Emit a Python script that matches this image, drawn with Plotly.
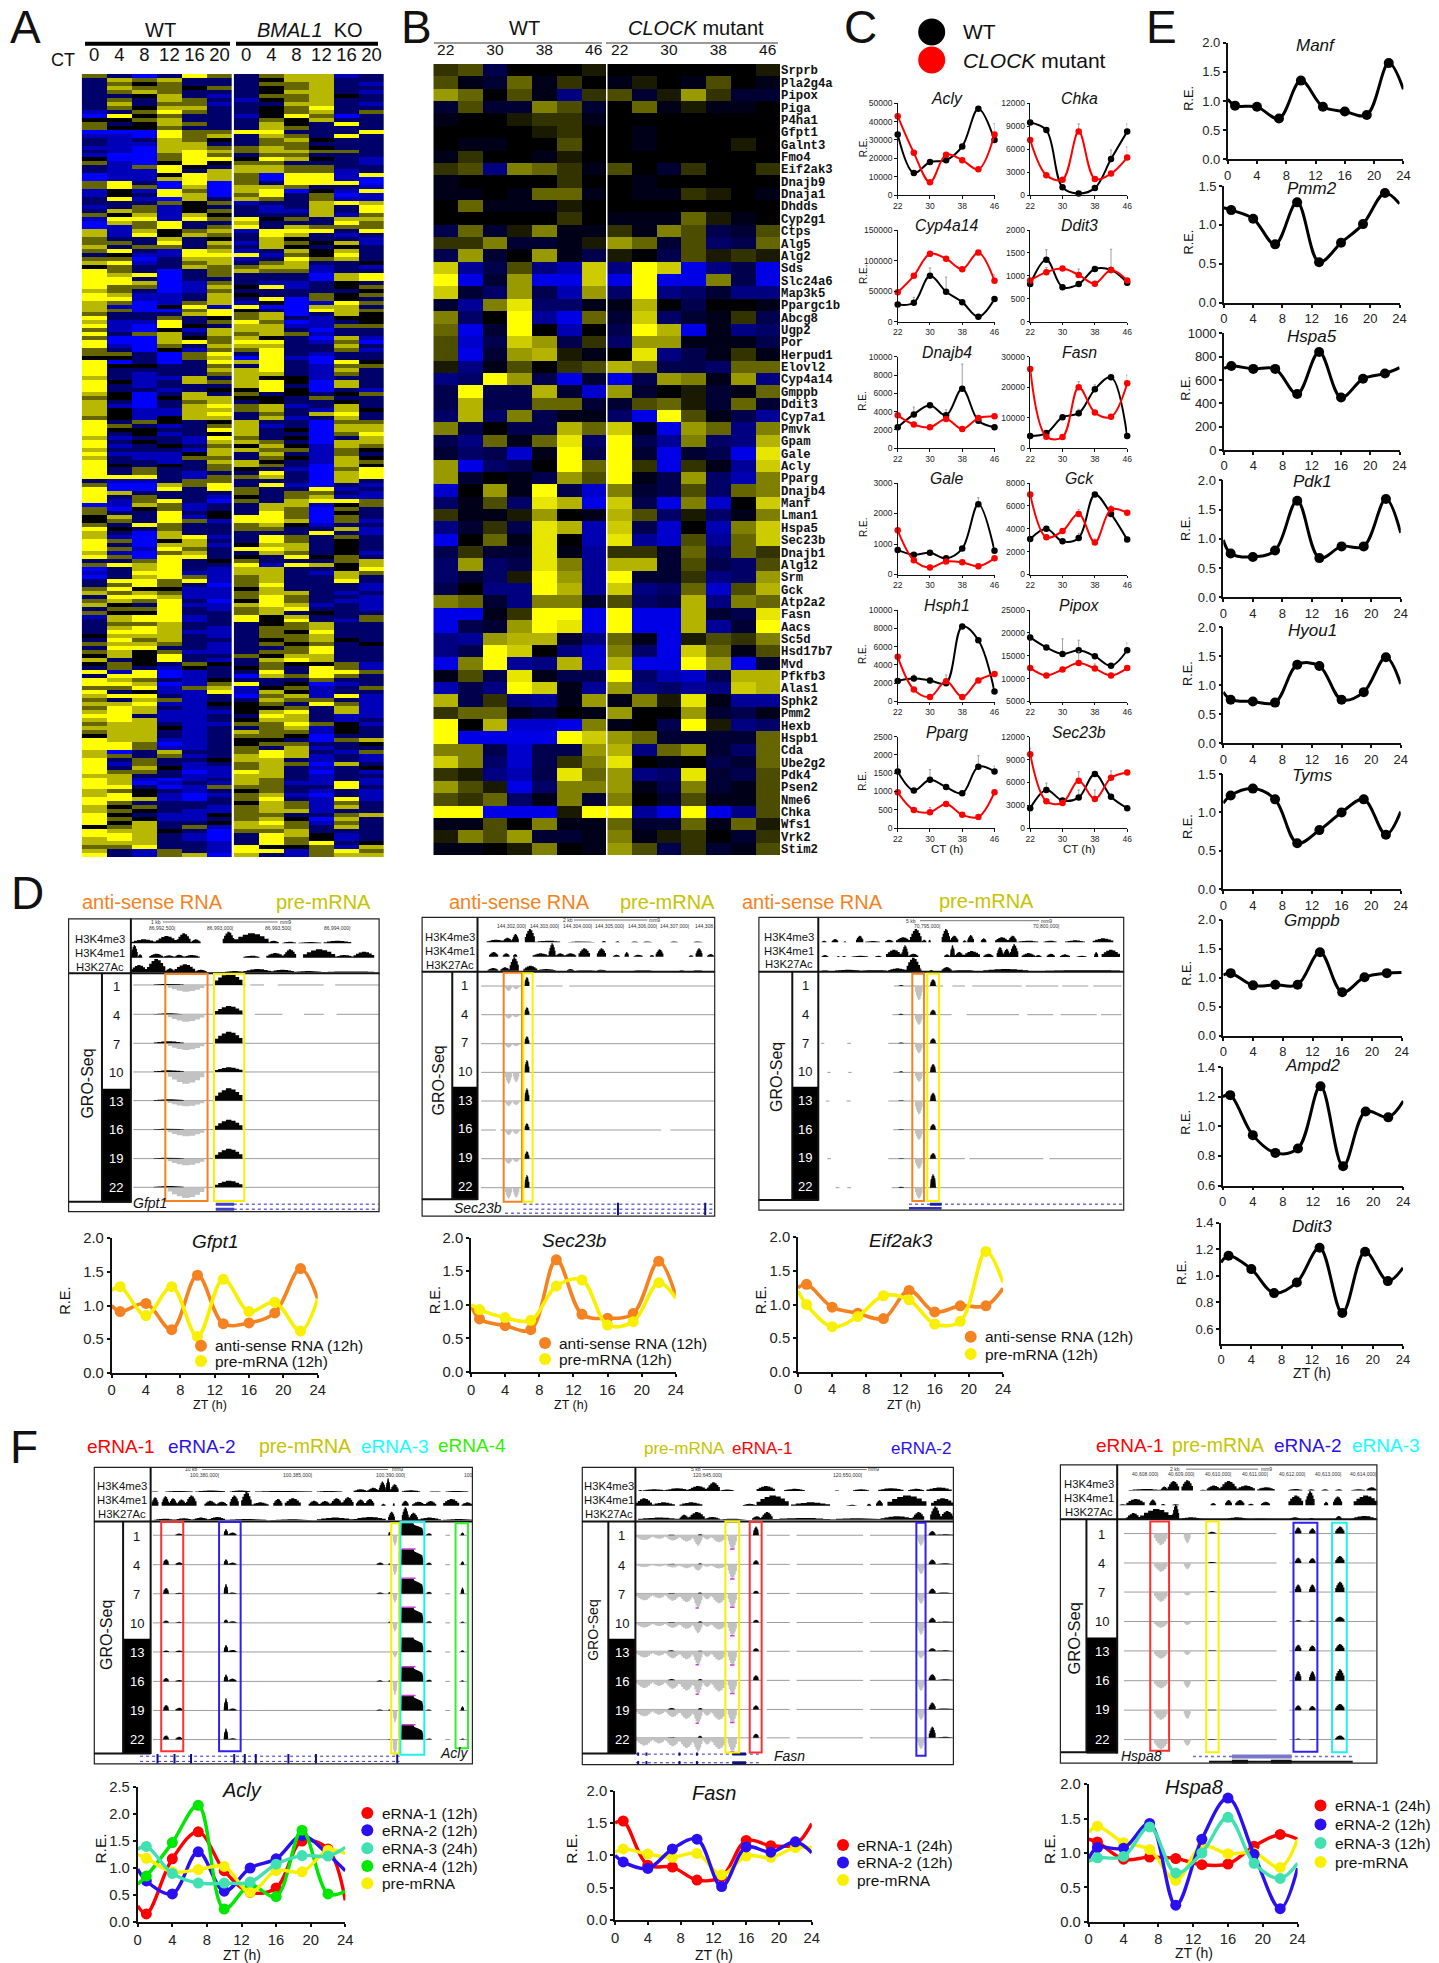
import plotly.graph_objects as go

W, H = 1439, 1963
SANS = "Liberation Sans, Arial, sans-serif"
MONO = "Liberation Mono, Courier New, monospace"

# ---------- Panel A heat map: one string per row, one letter per column (level)
A_LEVELS = {"b!": -1.0, "b": -0.72, "n": -0.42, "k": 0.0, "o": 0.4, "y": 0.72, "y!": 1.0}
A_COLS = ["0", "4", "8", "12", "16", "20"]
A_ROWS_TOP = [
"onBnYonoyybn","nyoynnnkyynn","nokonnnooynb","nyookonkoynn","noyonnnkyynb","nnkynbnooykn","nonyonbkoynn",
"nynoobnnyynb","nokyynnkoYnn","bnoYonnkoyno","BYkonnbkYoBn","kkoynnnokynn","onkyonnyknYn","okkonnnyonnn",
"BBBYooYYnnnY","bbBYoynyonYn","nbnyoknoyknn","nbbyynnoonnn","bbByyooyoknn","nbByYyoyyoon","bBBoYonoonnn",
"kBBoYYkYyknb","obBkYkoonnnb","nboYknyyoonn","nbbYnyyyoobn","BbbkYyoBYYbY","BbbyYyoBYYbB","oYnBYBonYYYB",
"oYoByByyonnb","bkbYoByYBkbY","bknYyBoYnoBb","nYbBynyonobb","nnnokobnnyYy","bnobknnbnynY","nyobkonbbynY",
"okybyknnnybo","bYYbYoYkonyy","ByoYnnynnnYo","BboYnoYnyooo","ybykoybYYYnY","ybYkyonYynbn","onnynknyknnb",
"oonYnybyokyb","ynoononyknkn","oYnbYybnykyn","nkbbYYYbokYn","ooBnyybnYoyn","yYbnoynoynnk","konnyooyybnb",
"YonBnoyoobnn","YyYBnonnnByY","YYnBnnnnnByY","YYyBbonbbnkn","YooBbykYbnko","yonBbonnnnnk","Yybbnyknnoko",
"YYbbnynYBokn","yoBboybkBbYo","ybBkYbYBByyn","yoBBoYknBYyo","onnnyYoyBnyk","Ynnonkoynbkk","ybbYnoYoBbnk",
"YbBYknyybboo","obBkbyyynBnn","Ynoynyoyobnn","oBBykoyknByb","YBByYoYYnboB","YbBonyyynnyn","onBkbooYnnob",
"oonBoYnYnbnn","kknBoyBYbBnn","YBnBnYyYnBYk","YkknnonYnboo","YnnnnyyYnbyn","Ynbnnoyynbon","ynbbynykkbnn",
"YkbnyoyYkByn","YnbnnnyYnByn","YnnbnkkYkBnb","ykBnynonknko","okBkyykknonn","ynBnoynknnkn","ybBnyYoybnyn",
"ykbbyyoynbyk","ykbbyYnonyYn","okbkyynybnyn","YnoknkynnBoo","YonbnoybnByy","YkknnYynkByy","YnkbnkynnBoY",
"ybnnbYonkBny","YnknbyyonByy","YbnknokykbyO","ynnnbyyoobok","Ybbbkynynbon","ynbbooNokbyk","YnnbnyyknbyO","YknknoyonByk",
]
A_ROWS_BOTTOM = [
"YnonnoknbBoY","YnonbnnYnByY","YYYnboOynByY","nbbnoonnnByn","oBByoYnYbBnb","YBBYnYonnYbn","Yynnnnonoonb",
"Ynonnbknoybb","YboYnBonyYYo","Bbyobnnyybko","oBkobnnyoBon","onnYnknYoBkn","kynYbkYYoBon","konYobYYyBob",
"onYonnoykbnn","Yknonnoonnyb","ynBynnnnnYnb","ybByYbnYonon","YoBkynnYonkn","YnByybkyynkn","YobYonYYynkn",
"ybBoynnyonkb","YoBYYnknYkon","nnoYnkonnnoy","oYyYnnYbYyky","BnyYnbyynnkY","bnYYbbyynbyo","BnyYobOynnyn",
"nYYoYboynnYn","noYonBoYnnnb","oYkkbbkynnnb","yoyobboyynbn","nYYybboYonnb","oyoYnBkYonbb","yknYbbyYybnb",
"nooYnboyYnnb","okkYnnoynknn","byYYbnYkynno","nyYYbnYkYnbo","nooynnnkoynn","nyYynbnooynn","nYYybbnokYnn",
"kyyynbnooynn","nYoynnnkoykn","oyyonbnokonk","nYYnnbnnoYnn","oykobbnooYnn","kykYnnokyynn","ynkYnbnyYynn",
"koknoknokkob","nonbknkonYob","YbYBbnnYnYYo","nYYBbnByoYon","YyonbknnnonN","YYyBboYnkBbn","ooYboybkobno",
"YnkbbYbykbnn","yYYnbnBoybYb","onyobnnyoonb","yyYbbkkonYob","oYynbnkkonyb","yYybbbkyYnyb","YYnbbnnYynbb",
"yYybbnkyynbn","oyynbboOYokb","yyykbnnoybkn","oyynbnyoobkn","kyynbnookBnn","YyybbnkknBoy","YYoBbnkoonnk",
"YYobbnonybnn","yBnynnoYynbO","yonobnyYybnb","Ynonnkyynbnb","YbonbnoyoByn","Ynykbboynbnk","YoonBbYynBnb",
"yynnbbyynbnn","YybBbnyonbnb","YyBbnbyobbYb","YYnBboOonnYn","yoknbnkonbnb","yYkbBboybBnb","YYybBnoYnbYb",
"Yonnnnkyobon","ykonnboyobyn","yoknbboyybnn","Yknbbkoonnoy","YokbbnoykByn","YkynnkyYobon","koynobyyonyn",
"YyyknBooynnn","YYynbBnYykbn","yYynbBnYokbn","yyynnbnYoYnk","ooYnnbYkkoby","ynbonbYYboYo","YnboyBynboyy",
]

# ---------- Panel B heat map: rows of expression levels, WT then CLOCK mutant
B_GENES = ["Srprb","Pla2g4a","Pipox","Piga","P4ha1","Gfpt1","Galnt3","Fmo4","Eif2ak3","Dnajb9","Dnaja1","Dhdds",
"Cyp2g1","Ctps","Alg5","Alg2","Sds","Slc24a6","Map3k5","Ppargc1b","Abcg8","Ugp2","Por","Herpud1","Elovl2","Cyp4a14",
"Gmppb","Ddit3","Cyp7a1","Pmvk","Gpam","Gale","Acly","Pparg","Dnajb4","Manf","Lman1","Hspa5","Sec23b","Dnajb1","Alg12",
"Srm","Gck","Atp2a2","Fasn","Aacs","Sc5d","Hsd17b7","Mvd","Pfkfb3","Alas1","Sphk2","Pmm2","Hexb","Hspb1","Cda","Ube2g2",
"Pdk4","Psen2","Nme6","Chka","Wfs1","Vrk2","Stim2"]
B_CT = ["22","26","30","34","38","42","46"]
B_WT = [
[2,3,-3,0,0,0,1],[3,-1,-2,4,-1,2,0],[6,4,0,3,-1,-5,2],[-2,3,-2,-2,5,3,-2],[-1,0,0,1,2,2,-1],[0,0,0,0,1,2,0],
[0,-1,-1,0,0,3,0],[-1,2,0,0,-1,1,0],[2,3,-5,5,4,2,-1],[-1,0,0,0,0,2,0],[-1,-1,0,-1,4,4,-1],[0,4,-1,-1,-1,1,0],
[0,0,0,0,0,2,0],[-3,4,-2,1,5,-1,-1],[2,2,5,-2,-2,-1,1],[-3,6,-2,0,6,-1,-3],[8,-6,-3,3,-5,-7,8],[10,-9,-2,6,-9,-9,8],
[8,-2,-4,6,-3,-7,6],[-2,-6,5,9,-4,-4,-1],[5,-4,0,10,-6,-9,4],[4,-9,-2,10,0,-7,0],[3,-8,-3,8,6,-3,2],[3,-9,-2,6,7,1,-1],
[1,-5,-1,3,0,2,3],[-5,-4,10,6,-3,-9,-2],[-3,10,-3,-3,7,-2,-8],[-3,7,-3,-3,4,4,-2],[-4,7,-4,5,-3,-1,-1],[5,-3,0,-3,-3,7,4],
[-3,-5,4,-1,4,9,-4],[-2,-4,-3,-8,-1,10,-3],[6,-9,-4,-3,0,10,4],[6,-2,0,-1,-3,6,3],[-8,0,6,-1,10,-3,-8],[-4,-1,3,-4,9,7,-9],
[2,-1,-1,1,6,0,-1],[-5,-2,2,-3,9,7,-7],[-9,0,4,-1,9,0,-7],[-3,2,-2,-2,9,-1,-6],[-4,6,-4,-3,9,5,-6],[-4,-2,-4,1,10,6,-6],
[-3,0,-5,-5,10,7,-6],[5,4,-2,-5,5,5,-2],[-9,-9,-1,2,10,10,-9],[-9,-3,-2,6,10,9,-9],[-5,-6,6,7,7,-2,-5],[-5,-3,10,8,0,-5,-8],
[-9,5,10,-6,-5,7,-8],[-1,3,-3,9,-1,-3,-3],[-7,-3,-5,10,8,-1,-6],[7,-3,2,-5,-6,-1,6],[2,4,4,-1,-2,0,-1],[10,0,7,-8,-8,-9,5],
[10,-9,-9,-9,-9,10,8],[5,5,-3,-8,-3,-3,6],[8,5,-4,-8,-3,2,5],[2,1,-5,-7,-3,9,4],[6,3,1,-9,-4,5,5],[3,2,4,-4,-1,5,-2],
[10,10,-9,-9,-9,1,10],[-1,-1,3,0,5,-1,-1],[1,5,3,6,-2,-2,-1],[-1,-1,0,1,5,0,-1]]
B_MUT = [
[0,0,0,0,0,0,1],[-1,1,0,-1,3,0,-1],[3,-2,1,6,2,-2,-2],[0,4,-1,1,-1,-1,0],[0,0,0,0,0,0,0],[0,-1,0,0,0,0,0],
[0,-1,0,0,0,1,0],[0,0,0,0,0,0,0],[3,0,-2,2,0,0,2],[0,-1,0,0,0,0,0],[0,-1,-1,2,1,0,-1],[0,0,0,0,0,0,0],
[-1,-1,-1,4,1,-1,0],[2,-1,5,3,-3,-2,3],[6,4,-2,3,-4,-3,4],[1,0,-3,3,1,2,1],[-5,10,8,-9,-5,-3,-9],[-9,10,-9,-9,5,-3,-9],
[-4,10,-5,-4,-2,-5,-5],[-1,7,0,-3,0,0,-1],[-2,8,-4,-2,-1,2,-3],[-3,10,7,-9,-1,-5,-4],[-4,6,6,-1,-1,-1,-3],[0,9,-5,-3,-1,2,-1],
[7,5,-3,-3,-4,4,4],[-9,-3,6,5,-1,6,-5],[6,-2,0,1,-2,-1,4],[-2,3,4,1,-2,4,-2],[-4,-9,10,3,-1,-3,-6],[8,-1,-9,6,4,-5,5],
[10,-3,-6,5,-4,-5,7],[10,-2,-9,-2,-3,-9,9],[10,2,-9,2,-1,-6,8],[10,-1,-3,6,-4,-7,5],[5,-2,-3,3,-4,4,5],[8,-3,-9,5,-8,0,8],
[7,3,-4,1,-4,-1,5],[8,-3,-8,0,-7,5,8],[9,-6,-8,3,-6,4,8],[2,2,-2,4,-4,4,2],[7,7,-2,3,-3,-4,3],[10,-2,-2,2,-5,-4,6],
[8,-5,-4,4,-8,3,7],[3,-4,-3,7,-5,5,4],[10,-9,-9,7,-2,-3,9],[10,-9,-9,7,-6,-2,10],[4,-1,-9,1,3,2,5],[5,-4,-9,8,4,-1,3],
[7,-9,-9,10,6,-9,-2],[10,-4,-7,-8,-3,7,7],[6,-5,-4,-6,-5,8,7],[-1,5,1,9,-1,-6,-6],[6,0,0,6,-2,-3,-1],[-1,0,-3,10,1,-5,-4],
[6,4,-2,-2,-2,-2,4],[7,-5,4,6,-2,-4,4],[9,0,-1,0,-3,-2,4],[6,-5,-4,9,-2,-3,3],[6,-1,-3,5,-2,-1,3],[5,0,-2,3,-1,-1,3],
[10,-6,-9,10,-9,-5,3],[4,-2,-2,4,-1,4,1],[5,-1,1,2,0,-2,2],[6,3,-3,2,-2,-1,3]]

# ---------- Panel C: (WT, WT error, mutant, mutant error) at circadian times
CT_HOURS = [22, 26, 30, 34, 38, 42, 46]
C_ACLY = ([33000,12000,18000,19000,26500,47000,30000],[0,0,0,0,0,0,0],[43000,23000,7000,22000,19000,14000,33000],[0,0,0,0,0,0,6000])
C_CHKA = ([9500,8500,1000,200,900,4700,8300],[0,0,0,0,0,1200,1000],[7200,2600,2000,8300,2100,2800,4900],[0,0,0,1000,0,0,1400])
C_CYP = ([28000,31000,75000,49000,32000,8000,37000],[0,9000,13000,24000,0,0,0],[48000,75000,111000,103000,86000,113000,67000],[0,0,0,0,0,0,10000])
C_DDIT3 = ([820,1350,750,820,1150,1130,850],[0,220,0,0,0,450,0],[900,1080,1160,1020,830,1130,900],[0,100,0,130,0,0,0])
C_DNAJB4 = ([2300,3700,4700,3600,6500,3000,2300],[0,800,0,600,2700,0,0],[3600,2600,2300,3200,2100,3300,3500],[0]*7)
C_FASN = ([4000,5000,10200,11500,19300,23300,4000],[0,0,0,1300,1500,0,0],[26000,3800,3700,20000,11700,10300,21300],[0,0,0,1800,0,0,2700])
C_GALE = ([800,650,710,530,850,2300,780],[0,0,0,0,0,220,0],[1450,470,230,430,400,270,530],[0]*7)
C_GCK = ([3100,4000,2900,3200,7000,5300,3050],[0,0,0,400,0,0,0],[7000,3250,3800,5300,2800,5700,5400],[0,0,0,400,300,300,0])
C_HSPH1 = ([2250,2500,2300,2000,8200,6700,1100],[0,400,0,0,0,0,0],[4900,1300,500,2200,500,2300,3000],[0,0,0,700,0,0,0])
C_PIPOX = ([19000,16800,15400,16200,14900,12800,16200],[0,0,3300,2200,0,0,1600],[12300,10700,12000,13400,12200,10700,12300],[0,0,0,2500,1000,0,0])
C_PPARG = ([1550,1030,1320,1120,950,1680,1550],[150,0,280,0,0,300,150],[980,490,430,660,360,300,980],[0,0,130,0,0,0,0])
C_SEC23B = ([2600,5000,3600,4000,7100,4100,2600],[0,900,0,1000,0,0,0],[9700,3500,3300,6200,3800,6600,7300],[800,0,0,1200,1200,900,0])
TICK_ACLY = [0,10000,20000,30000,40000,50000]
TICK_CHKA = [0,3000,6000,9000,12000]
TICK_CYP = [0,50000,100000,150000]
TICK_DDIT3 = [0,500,1000,1500,2000]
TICK_DNAJB4 = [0,2000,4000,6000,8000,10000]
TICK_FASN = [0,10000,20000,30000]
TICK_GALE = [0,1000,2000,3000]
TICK_GCK = [0,2000,4000,6000,8000]
TICK_HSPH1 = [0,2000,4000,6000,8000,10000]
TICK_PIPOX = [5000,10000,15000,20000,25000]
TICK_PPARG = [0,500,1000,1500,2000,2500]
TICK_SEC23B = [0,3000,6000,9000,12000]

# ---------- Panels D, E, F: ZT series (line ends at 0 and 24 carry no point)
ZT = [0, 1, 4, 7, 10, 13, 16, 19, 22, 24]
ZT_TICKS = [0, 4, 8, 12, 16, 20, 24]
E_MANF = [1.03,.92,.90,.70,1.35,.90,.82,.76,1.65,1.2]
E_PMM2 = [1.22,1.19,1.08,.75,1.29,.52,.77,1.01,1.41,1.27]
E_HSPA5 = [700,720,695,695,480,840,450,610,655,705]
E_PDK1 = [.98,.75,.69,.80,1.65,.67,.87,.87,1.68,1.1]
E_HYOU1 = [.88,.75,.72,.70,1.35,1.33,.75,.88,1.48,1.02]
E_TYMS = [1.12,1.22,1.31,1.17,.60,.77,1.0,1.17,.71,1.01]
E_GMPPB = [1.05,1.08,.87,.88,.88,1.44,.75,1.01,1.08,1.09]
E_AMPD2 = [1.2,1.21,.94,.82,.85,1.27,.73,1.10,1.06,1.17]
E_DDIT3 = [1.1,1.15,1.05,.87,.95,1.21,.72,1.18,.96,1.06]
D_GFPT1_AS = [1.0,.91,1.03,.64,1.45,.73,.74,.89,1.55,1.1]
D_GFPT1_PRE = [1.22,1.28,.85,1.28,.54,1.39,.91,1.05,.62,1.1]
D_SEC23B_AS = [1.0,.79,.69,.63,1.67,.86,.80,.87,1.65,1.13]
D_SEC23B_PRE = [1.0,.93,.81,.77,1.28,1.37,.70,.75,1.33,1.1]
D_EIF_AS = [1.25,1.30,.96,.87,.79,1.21,.89,.98,.98,1.24]
D_EIF_PRE = [1.2,1.0,.67,.82,1.13,1.07,.71,.75,1.79,1.33]
F_ACLY_E1 = [.30,.15,1.17,1.67,.95,.55,.63,1.50,1.35,.40]
F_ACLY_E2 = [.98,.76,.52,1.30,.57,1.00,1.17,1.60,1.25,.95]
F_ACLY_E4 = [.70,.85,1.47,2.16,.24,.68,.47,1.70,.52,.57]
F_ACLY_PRE = [1.25,1.18,.93,.97,1.03,.55,.95,.93,1.33,1.27]
F_ACLY_E3 = [1.35,1.40,.90,.72,.72,.74,1.07,1.23,1.22,1.38]
F_FASN_E1 = [1.5,1.53,.85,.82,.62,.67,1.23,1.15,1.17,1.49]
F_FASN_PRE = [1.05,1.1,1.02,.97,1.03,.7,.99,.97,1.12,1.12]
F_FASN_E2 = [1.0,.9,.8,1.1,1.25,.52,1.13,1.05,1.21,1.04]
F_HSPA8_E1 = [1.2,1.16,.91,.94,.92,.83,.84,1.1,1.27,1.2]
F_HSPA8_PRE = [1.3,1.39,1.15,1.05,.6,1.1,.99,1.0,.79,1.2]
F_HSPA8_E2 = [.92,1.08,1.07,1.43,.24,1.2,1.8,.98,.19,.78]
F_HSPA8_E3 = [.88,.93,.95,1.38,.71,1.0,1.52,.85,.63,.85]

# ---------- Browser tracks: (start, end, height) along each panel's own position scale
GRO_HOURS = ["1","4","7","10","13","16","19","22"]
D1_K4ME3 = [(285,340,12),(340,385,22),(385,415,30),(415,437,12),(485,510,35),(510,585,30),(585,607,8),(615,645,5),(650,700,4),(705,765,8)]
D1_K4ME1 = [(285,300,38),(300,310,10),(325,355,12),(355,380,7),(380,400,9),(400,435,8),(530,565,6),(580,618,14),(618,645,25),(660,730,25),(730,770,8),(770,815,18)]
D1_K27AC = [(285,320,22),(320,360,40),(360,380,12),(380,425,24),(425,450,8),(490,530,4),(530,590,10),(590,640,8),(640,700,4),(700,815,3)]
D1_UP = [(468,528,[34,25,35,14,37,30,30,20]),(335,400,[3,3,6,5,4,3,3,4])]
D1_DOWN = [(365,445,[20,22,20,35,17,20,20,32])]
D2_K4ME3 = [(1060,1100,8),(1095,1115,14),(1115,1130,25),(1143,1165,40),(1165,1220,5),(1238,1295,3),(1310,1320,4),(1340,1350,3),(1375,1390,3),(1400,1420,3),(1460,1477,3),(1510,1530,3)]
D2_K4ME1 = [(1065,1085,14),(1095,1110,10),(1117,1127,8),(1160,1195,10),(1195,1210,40),(1210,1230,10),(1230,1255,10),(1260,1285,25),(1300,1320,25),(1335,1350,6),(1360,1370,14),(1380,1400,6),(1415,1425,5),(1428,1445,22),(1500,1510,4),(1515,1530,25),(1540,1555,8)]
D2_K27AC = [(1062,1085,8),(1090,1110,10),(1110,1130,40),(1140,1170,15),(1170,1210,5),(1235,1250,5),(1255,1295,2),(1300,1320,3),(1380,1420,2),(1480,1490,2),(1510,1530,2)]
D2_UP = [(1142,1153,[27,22,22,37,38,20,22,38])]
D2_DOWN = [(1100,1115,[15,12,12,35,15,15,15,33]),(1117,1131,[10,8,8,30,12,12,10,30])]
D3_K4ME3 = [(305,320,5),(335,355,10),(370,380,3),(408,430,20),(435,480,4),(495,520,8),(528,570,15),(570,605,40),(605,620,8),(625,633,8),(665,690,40),(690,715,20),(728,740,6),(742,762,22),(782,800,12),(825,865,15),(865,890,20),(890,955,5),(970,1010,5),(1035,1095,6),(1118,1180,12)]
D3_K4ME1 = [(305,325,6),(350,360,3),(365,380,3),(395,445,4),(465,485,4),(498,545,22),(545,565,35),(565,595,10),(672,690,8),(690,705,35),(705,730,15),(730,780,18),(790,820,10),(830,850,30),(850,870,25),(870,895,38),(905,945,12),(945,965,6),(980,1005,10),(1020,1050,8),(1070,1100,4),(1122,1135,15),(1145,1200,22)]
D3_K27AC = [(305,325,2),(345,420,4),(420,500,3),(505,560,8),(560,600,40),(600,605,10),(628,640,3),(665,695,12),(695,760,3),(790,925,6),(975,1200,3)]
D3_UP = [(630,648,[20,15,15,25,25,17,17,40]),(535,552,[3,3,3,3,2,2,2,3])]
D3_DOWN = [(585,608,[42,30,30,28,40,30,30,33])]
F1_K4ME3 = [(330,345,2),(360,420,3),(425,490,4),(500,545,4),(555,680,3),(690,745,3),(770,800,8),(800,825,12),(825,840,30),(840,850,40),(850,868,22),(875,915,5),(935,960,2),(970,1020,3)]
F1_K4ME1 = [(330,345,25),(352,368,28),(368,385,22),(385,405,18),(405,428,30),(445,470,15),(470,495,12),(500,520,30),(525,548,40),(548,585,10),(595,615,20),(620,655,22),(672,695,15),(695,720,14),(720,745,22),(745,770,25),(775,795,18),(795,815,20),(830,840,6),(855,860,8),(875,890,15),(897,925,12),(925,950,14),(965,1000,20),(1005,1030,10)]
F1_K27AC = [(335,380,5),(380,420,6),(420,455,8),(455,490,10),(490,580,4),(590,680,3),(690,770,8),(770,840,10),(845,860,25),(875,890,38),(890,910,22),(910,960,8),(965,1030,4)]
F1_FLAT = [(873,922,[35,45,45,45,42,42,43,43])]
F1_UP = [(355,368,[0,16,17,7,4,10,16,12]),(382,398,[5,7,3,3,4,4,8,8]),(487,497,[18,16,28,10,20,20,35,32]),(497,515,[8,6,4,5,6,8,6,4]),
         (1003,1011,[8,10,18,4,5,3,12,3]),(845,851,[10,4,5,4,0,3,3,2]),(928,940,[6,6,6,5,5,5,3,3]),(820,835,[0,6,4,0,0,3,3,0])]
F1_DOWN = [(855,865,[30,30,25,25,15,40,35,45])]
F2_K4ME3 = [(1390,1400,3),(1400,1450,5),(1450,1500,8),(1500,1540,14),(1540,1568,25),(1568,1598,4),(1648,1688,14),(1708,1753,6),(1818,1828,2),(1858,1893,5),(1913,1968,8),(1978,2013,6),(2018,2073,10)]
F2_K4ME1 = [(1385,1420,22),(1420,1470,10),(1480,1530,10),(1618,1648,6),(1648,1718,30),(1723,1808,10),(1843,1868,3),(1888,1898,6),(1908,1923,16),(1933,2018,30),(2028,2078,22)]
F2_K27AC = [(1390,1480,6),(1480,1500,14),(1500,1535,22),(1535,1568,8),(1568,1628,3),(1638,1658,10),(1658,1683,22),(1683,1808,5),(1808,1918,4),(1918,1988,10),(1988,2013,22),(2026,2048,38),(2048,2078,25)]
F2_UP = [(1640,1653,[25,12,8,8,9,15,12,12]),(2023,2038,[12,14,14,14,9,18,20,32]),(2038,2078,[3,3,3,3,3,3,3,3]),(1455,1470,[2,2,2,2,3,4,4,2]),(1520,1530,[3,3,3,4,2,4,4,6])]
F2_DOWN = [(1385,1420,[14,8,20,14,18,22,20,22]),(1420,1450,[10,6,14,10,13,16,15,16]),(1450,1480,[15,9,21,15,20,24,22,24]),
           (1480,1510,[18,11,25,18,23,29,27,29]),(1510,1530,[30,18,42,30,39,40,40,40]),(1530,1550,[12,7,17,12,16,19,18,19]),
           (1550,1582,[20,12,28,20,26,32,30,32]),(1585,1605,[40,42,40,38,40,38,38,40]),(1998,2014,[30,28,30,35,20,30,30,32])]
F3_K4ME3 = [(890,960,5),(960,975,12),(975,1000,28),(1005,1030,30),(1045,1060,3),(1060,1090,15),(1090,1125,28),(1125,1165,15),(1170,1208,10),(1237,1268,5),(1280,1295,4),(1310,1325,4),(1340,1355,4),(1375,1405,4),(1408,1430,10)]
F3_K4ME1 = [(870,885,3),(885,925,18),(935,950,16),(960,970,3),(985,1000,3),(1068,1080,6),(1100,1115,15),(1122,1142,15),(1150,1162,4),(1178,1198,10),(1238,1270,28),(1275,1295,40),(1315,1325,10),(1335,1355,25),(1380,1432,28)]
F3_K27AC = [(870,885,3),(885,915,20),(915,985,32),(985,1000,45),(1000,1050,8),(1060,1085,3),(1100,1150,8),(1150,1208,4),(1238,1265,8),(1280,1295,6),(1340,1355,12),(1375,1430,12)]
F3_UP = [(1063,1080,[5,3,3,2,2,2,2,2]),(1252,1266,[18,15,22,4,18,28,14,3]),(1283,1297,[15,14,22,3,16,27,12,2]),(1340,1360,[20,20,30,14,20,33,18,12])]
F3_DOWN = [(945,975,[33,25,28,18,22,22,28,28]),(1010,1025,[28,18,10,10,12,20,25,18])]

BLUE, RED, ORANGE, YELLOW, TEAL, GREEN = "#1a10f0", "#ff0000", "#f58220", "#f8f000", "#40e0b0", "#00e800"
HEAT = [[0, "#0000ff"], [0.5, "#000000"], [1, "#ffff00"]]

fig = go.Figure()
axis_no = [0]
shapes, notes = [], []


def px_x(x):
    return x / W


def px_y(y):
    return 1 - y / H


def axes(l, r, t, b, xcfg, ycfg):
    axis_no[0] += 1
    n = axis_no[0]
    xn, yn = ("x", "y") if n == 1 else (f"x{n}", f"y{n}")
    fig.layout["xaxis" if n == 1 else f"xaxis{n}"] = dict(domain=[px_x(l), px_x(r)], anchor=yn, automargin=False, **xcfg)
    fig.layout["yaxis" if n == 1 else f"yaxis{n}"] = dict(domain=[px_y(b), px_y(t)], anchor=xn, automargin=False, **ycfg)
    return xn, yn


def text(x, y, s, size=14, color="#111111", anchor="center", angle=0, family=SANS, xref="paper", yref="paper"):
    if xref == "paper":
        x, y = px_x(x), px_y(y)
    notes.append(dict(x=x, y=y, xref=xref, yref=yref, text=s, showarrow=False, xanchor=anchor, yanchor="middle",
                      textangle=angle, font=dict(size=size, color=color, family=family)))


def dot(x, y, d, color):
    shapes.append(dict(type="circle", xref="paper", yref="paper", x0=px_x(x - d / 2), x1=px_x(x + d / 2),
                       y0=px_y(y + d / 2), y1=px_y(y - d / 2), fillcolor=color, line=dict(width=0)))


def chart(box, xr, xticks, yr, yticks, yfmt, series, tick=13, axw=1.6, lw=3, ms=10, ticklen=4, xfmt=str, ends=True):
    l, r, t, b = box
    xn, yn = axes(l, r, t, b,
        dict(range=xr, tickvals=xticks, ticktext=[xfmt(v) for v in xticks], showgrid=False, zeroline=False, showline=True,
             linecolor="#111", linewidth=axw, ticks="outside", ticklen=ticklen, tickwidth=axw, tickcolor="#111",
             tickfont=dict(size=tick, family=SANS, color="#222"), fixedrange=True),
        dict(range=yr, tickvals=yticks, ticktext=[yfmt(v) for v in yticks], showgrid=False, zeroline=False, showline=True,
             linecolor="#111", linewidth=axw, ticks="outside", ticklen=ticklen, tickwidth=axw, tickcolor="#111",
             tickfont=dict(size=tick, family=SANS, color="#222"), fixedrange=True))
    for xs, ys, color, err in series:
        sizes = [0 if ends and i in (0, len(xs) - 1) else ms for i in range(len(xs))]
        tr = dict(x=xs, y=ys, mode="lines+markers", xaxis=xn, yaxis=yn, showlegend=False, cliponaxis=False,
                  line=dict(color=color, width=lw, shape="spline", smoothing=1.0),
                  marker=dict(size=sizes, color=color, opacity=1, line=dict(width=0)))
        if err is not None:
            tr["error_y"] = dict(type="data", symmetric=False, array=err, arrayminus=[0] * len(err),
                                 color="#8a8a8a", thickness=0.8, width=1.2)
        fig.add_trace(go.Scatter(**tr))


HUMP_X = [0, 0, .12, .12, .25, .25, .4, .4, .6, .6, .75, .75, .88, .88, 1, 1]
HUMP_H = [0, .4, .4, .65, .65, .85, .85, 1, 1, .9, .9, .7, .7, .45, .45, 0]
FLAT_X = [0, 0, .02, .55, .6, .8, .95, 1, 1]
FLAT_H = [0, .95, 1, 1, .85, .72, .6, .25, 0]


def poly(peaks, base, sign, xs, ys, shape_x=HUMP_X, shape_h=HUMP_H):
    for a, b_, h in peaks:
        if h <= 0:
            continue
        for fx, fh in zip(shape_x, shape_h):
            xs.append(a + (b_ - a) * fx)
            ys.append(base - sign * h * fh)
        xs.append(None)
        ys.append(None)


def browser(frame, units, div, chip, chip_base, gro_base, up, down, flat=(), base_segs=(), row_segs=None,
            numbers=None, chip_label_x=None, chip_label_y=None, gro_x=0, gro_y=0, gro_size=16, boxes=(),
            gene_lines=(), exons=(), gene=None, ruler=None, tips=None):
    l, r, t, b = frame
    ux0, ux1, uy0, uy1 = units
    hide = dict(visible=False, fixedrange=True)
    xn, yn = axes(l, r, t, b, dict(range=[ux0, ux1], **hide), dict(range=[uy1, uy0], **hide))
    hdiv, hbot, gdiv, white_end, black_end, gbot = div

    def add(xs, ys, color):
        fig.add_trace(go.Scatter(x=xs, y=ys, mode="lines", fill="toself", fillcolor=color, line=dict(width=0),
                                 xaxis=xn, yaxis=yn, showlegend=False, hoverinfo="skip"))

    # baselines
    bx, by = [], []
    for i, y in enumerate(gro_base):
        for a, b_ in (row_segs or {}).get(i, base_segs):
            bx += [a, b_, None]
            by += [y, y, None]
    fig.add_trace(go.Scatter(x=bx, y=by, mode="lines", line=dict(color="#9c9c9c", width=1), xaxis=xn, yaxis=yn,
                             showlegend=False, hoverinfo="skip"))
    # grey antisense peaks
    gx, gy = [], []
    for i, y in enumerate(gro_base):
        poly([(a, e, amps[i]) for a, e, amps in down], y, -1, gx, gy)
    add(gx, gy, "#c2c2c2")
    # black signal
    kx, ky = [], []
    for track, base in zip(chip, chip_base):
        poly(track, base, 1, kx, ky)
    for i, y in enumerate(gro_base):
        poly([(a, e, amps[i]) for a, e, amps in up], y, 1, kx, ky)
        poly([(a, e, amps[i]) for a, e, amps in flat], y, 1, kx, ky, FLAT_X, FLAT_H)
    add(kx, ky, "#050505")
    # magenta clipped tips
    if tips:
        mx, my = [], []
        for a, e, peak_rows, sign in tips:
            for i, amp in peak_rows:
                mx += [a, e, None]
                my += [gro_base[i] - sign * amp, gro_base[i] - sign * amp, None]
        fig.add_trace(go.Scatter(x=mx, y=my, mode="lines", line=dict(color="#d040d0", width=1.5), xaxis=xn, yaxis=yn,
                                 showlegend=False, hoverinfo="skip"))
    # gene models
    for y, a, e, color, w, dash in gene_lines:
        fig.add_trace(go.Scatter(x=[a, e], y=[y, y], mode="lines", line=dict(color=color, width=w, dash=dash),
                                 xaxis=xn, yaxis=yn, showlegend=False, hoverinfo="skip"))
    if len(exons):
        ex, ey = [], []
        for x, y0, y1 in exons:
            ex += [x, x, None]
            ey += [y0, y1, None]
        fig.add_trace(go.Scatter(x=ex, y=ey, mode="lines", line=dict(color="#101080", width=2), xaxis=xn, yaxis=yn,
                                 showlegend=False, hoverinfo="skip"))

    def seg(x0, y0, x1, y1, color="#111", w=2):
        shapes.append(dict(type="line", xref=xn, yref=yn, x0=x0, y0=y0, x1=x1, y1=y1, line=dict(color=color, width=w)))

    shapes.append(dict(type="rect", xref=xn, yref=yn, x0=gdiv, x1=hdiv, y0=white_end, y1=black_end,
                       fillcolor="#000", line=dict(width=0)))
    seg(hdiv, uy0, hdiv, black_end)
    seg(ux0, hbot, ux1, hbot)
    seg(gdiv, hbot, gdiv, gbot)
    seg(ux0, gbot, hdiv, gbot)
    for x0, x1, y0, y1, color in boxes:
        shapes.append(dict(type="rect", xref=xn, yref=yn, x0=x0, x1=x1, y0=y0, y1=y1, line=dict(color=color, width=2)))
    shapes.append(dict(type="rect", xref=xn, yref=yn, x0=ux0, x1=ux1, y0=uy0, y1=uy1, line=dict(color="#222", width=2.4)))

    for name, y in zip(["H3K4me3", "H3K4me1", "H3K27Ac"], chip_label_y):
        text(chip_label_x, y, name, 11.3, "#111", xref=xn, yref=yn)
    nx = (gdiv + hdiv) / 2
    for i, (hr, y) in enumerate(zip(GRO_HOURS, numbers)):
        text(nx, y, hr, 13, "#ffffff" if i >= 4 else "#111", xref=xn, yref=yn)
    text(gro_x, gro_y, "GRO-Seq", gro_size, "#111", angle=-90, xref=xn, yref=yn)
    if gene:
        text(gene[1], gene[2], f"<i>{gene[0]}</i>", 14, "#111", xref=xn, yref=yn)
    if ruler:
        rx0, rx1, ry, scale, sx, mx_, pos_y, positions = ruler
        seg(rx0, ry, rx1, ry, "#777", 1)
        text(sx, ry, scale, 5, "#333", xref=xn, yref=yn)
        text(mx_, ry, "mm9", 5, "#333", xref=xn, yref=yn)
        for label, x in positions:
            text(x, pos_y, label, 5, "#333", xref=xn, yref=yn)


# ===== Panel A
def a_level(c):
    if c == "Y":
        return A_LEVELS["y!"]
    if c == "B":
        return A_LEVELS["b!"]
    return A_LEVELS[c.lower()]

a_matrix = [[a_level(c) for c in row] for row in A_ROWS_TOP + A_ROWS_BOTTOM]
a_index = list(range(len(a_matrix)))

def heat_axes(l, r, t, b, labels, standoff, tick):
    return axes(l, r, t, b,
        dict(side="top", tickvals=labels, ticktext=labels, type="category", ticks="outside", ticklen=standoff,
             tickcolor="rgba(0,0,0,0)", showgrid=False, zeroline=False, fixedrange=True,
             tickfont=dict(size=tick, family=SANS, color="#111")),
        dict(autorange="reversed", showticklabels=False, ticks="", showgrid=False, zeroline=False, fixedrange=True))

for cols, (l, r) in (((0, 6), (81.7, 232)), ((6, 12), (233.7, 384))):
    xn, yn = heat_axes(l, r, 74, 857, A_COLS, 5, 18.5)
    fig.add_trace(go.Heatmap(z=[m[cols[0]:cols[1]] for m in a_matrix], x=A_COLS, y=a_index, xaxis=xn, yaxis=yn,
                             zmin=-1, zmax=1, colorscale=HEAT, showscale=False, hoverongaps=False))
text(25.5, 27, "A", 46)
text(160, 30, "WT", 20)
text(310, 30, "<i>BMAL1</i>  KO", 20)
text(63, 60, "CT", 18)
for x0, x1 in ((85, 230), (236, 378)):
    shapes.append(dict(type="line", xref="paper", yref="paper", x0=px_x(x0), x1=px_x(x1), y0=px_y(43.7), y1=px_y(43.7),
                       line=dict(color="#000", width=4)))

# ===== Panel B
B_TICKS = ["22", "30", "38", "46"]
for data, (l, r), right in ((B_WT, (433.3, 606), False), (B_MUT, (607.3, 780), True)):
    xn, yn = axes(l, r, 64, 855,
        dict(side="top", type="category", categoryorder="array", categoryarray=B_CT, tickvals=B_TICKS, ticktext=B_TICKS,
             ticks="outside", ticklen=2, tickcolor="rgba(0,0,0,0)", showgrid=False, zeroline=False, fixedrange=True,
             tickfont=dict(size=15.5, family=SANS, color="#111")),
        dict(autorange="reversed", type="category", side="right", showticklabels=right, ticks="", showgrid=False,
             zeroline=False, fixedrange=True, tickmode="array", tickvals=B_GENES, ticktext=B_GENES,
             tickfont=dict(size=12.3, family=MONO, color="#111", weight="bold")))
    fig.add_trace(go.Heatmap(z=data, x=B_CT, y=B_GENES, xaxis=xn, yaxis=yn, zmin=-10, zmax=10, colorscale=HEAT, showscale=False))
text(416, 27, "B", 46)
text(524.5, 28, "WT", 20)
text(696, 28, "<i>CLOCK</i> mutant", 20)
for x0, x1 in ((434, 602), (606, 778)):
    shapes.append(dict(type="line", xref="paper", yref="paper", x0=px_x(x0), x1=px_x(x1), y0=px_y(43), y1=px_y(43),
                       line=dict(color="#777", width=1.4)))

# ===== Panel C
text(861, 27, "C", 46)
dot(931.7, 32, 27, "#000")
dot(931.7, 60, 27, "#ff0000")
text(961, 32, "WT", 21, anchor="left")
text(961, 60, "<i>CLOCK</i> mutant", 21, anchor="left")
C_X = [(897.7, 994.5), (1030.2, 1127.2)]
C_TOP = [103.3, 230, 356.7, 483, 610, 736.7]
C_BOT = [195, 321.7, 448.3, 574.5, 701.5, 828]
C_PANELS = [
 ("Acly", C_ACLY, [0, 50000], TICK_ACLY), ("Chka", C_CHKA, [0, 12000], TICK_CHKA),
 ("Cyp4a14", C_CYP, [0, 150000], TICK_CYP), ("Ddit3", C_DDIT3, [0, 2000], TICK_DDIT3),
 ("Dnajb4", C_DNAJB4, [0, 10000], TICK_DNAJB4), ("Fasn", C_FASN, [0, 30000], TICK_FASN),
 ("Gale", C_GALE, [0, 3000], TICK_GALE), ("Gck", C_GCK, [0, 8000], TICK_GCK),
 ("Hsph1", C_HSPH1, [0, 10000], TICK_HSPH1), ("Pipox", C_PIPOX, [5000, 25000], TICK_PIPOX),
 ("Pparg", C_PPARG, [0, 2500], TICK_PPARG), ("Sec23b", C_SEC23B, [0, 12000], TICK_SEC23B)]
for i, (name, (wt, wte, mu, mue), yr, yt) in enumerate(C_PANELS):
    row, col = i // 2, i % 2
    l, r = C_X[col]
    chart((l, r, C_TOP[row], C_BOT[row]), [22, 46], [22, 30, 38, 46], yr, yt, str,
          [(CT_HOURS, wt, "#000", wte), (CT_HOURS, mu, "#ff0000", mue)], tick=8.5, axw=1.1, lw=2, ms=6.5, ticklen=2.5, ends=False)
    text((l + r) / 2 + 0.5, C_TOP[row] - 4.5, f"<i>{name}</i>", 15.8)
    if col == 0:
        text(863, C_TOP[row] + 45, "R.E.", 10, angle=-90)
text(947, 849, "CT (h)", 11.5)
text(1079, 849, "CT (h)", 11.5)

# ===== Panel E
text(1161, 27, "E", 46)
f1 = lambda v: f"{v:.1f}"
E_PANELS = [
 ("Manf", E_MANF, (1227.7, 1403.4, 42.7, 159.3), [0, 2], [0, .5, 1, 1.5, 2], f1, 1316, 45, 1188.7, 98),
 ("Pmm2", E_PMM2, (1223.9, 1399.6, 186, 302.7), [0, 1.5], [0, .5, 1, 1.5], f1, 1312, 188, 1188.7, 241.7),
 ("Hspa5", E_HSPA5, (1224, 1399.6, 333.3, 450), [0, 1000], [0, 200, 400, 600, 800, 1000], str, 1312, 336, 1185.7, 388),
 ("Pdk1", E_PDK1, (1223.3, 1400.7, 480.3, 597.3), [0, 2], [0, .5, 1, 1.5, 2], f1, 1312, 481.5, 1186, 529),
 ("Hyou1", E_HYOU1, (1223.3, 1400.7, 627, 743.3), [0, 2], [0, .5, 1, 1.5, 2], f1, 1312, 630, 1188, 674),
 ("Tyms", E_TYMS, (1223.3, 1400.7, 774, 889.3), [0, 1.5], [0, .5, 1, 1.5], f1, 1312, 775, 1188, 827),
 ("Gmppb", E_GMPPB, (1223.3, 1401.7, 919.7, 1035.9), [0, 2], [0, .5, 1, 1.5, 2], f1, 1312, 921, 1186.7, 973),
 ("Ampd2", E_AMPD2, (1222.7, 1403.3, 1067, 1185.5), [.6, 1.4], [.6, .8, 1, 1.2, 1.4], f1, 1312, 1065, 1186, 1122.7),
 ("Ddit3", E_DDIT3, (1221, 1403, 1222.5, 1343.7), [.49, 1.4], [.6, .8, 1, 1.2, 1.4], f1, 1312, 1226, 1182, 1273)]
for name, ys, box, yr, yt, fmt, tx, ty, rx, ry in E_PANELS:
    chart(box, [0, 24], ZT_TICKS, yr, yt, fmt, [(ZT, ys, "#000", None)], tick=13, axw=1.6, lw=3, ms=10, ticklen=3)
    text(tx, ty, f"<i>{name}</i>", 17)
    text(rx, ry, "R.E.", 12.7, angle=-90)
text(1312, 1373, "ZT (h)", 14)

# ===== Panel D
text(27.5, 893, "D", 46)
for ax_, ay_, label, color, size in (
    (152, 901.7, "anti-sense RNA", ORANGE, 20), (323, 901.7, "pre-mRNA", "#c4c400", 20),
    (519, 901.7, "anti-sense RNA", ORANGE, 20), (667.6, 901.7, "pre-mRNA", "#c4c400", 20),
    (812, 901.7, "anti-sense RNA", ORANGE, 20), (987, 900.7, "pre-mRNA", "#c4c400", 20)):
    text(ax_, ay_, label, size, color)

D_BASE_FULL = [(290, 825)]
browser((68, 379.7, 918.3, 1212.3), (148, 827, 115, 997), (285, 280, 222, 626, 968, 965),
        [D1_K4ME3, D1_K4ME1, D1_K27AC], [190, 233, 277], [315, 403, 490, 576, 662, 749, 836, 922], D1_UP, D1_DOWN,
        base_segs=D_BASE_FULL, row_segs={0: [(290, 535), (545, 575), (605, 705), (730, 825)], 1: [(290, 530), (555, 615), (662, 705), (733, 825)]},
        numbers=[320, 408, 493, 578, 664, 750, 836, 923], chip_label_x=217, chip_label_y=[178, 220, 261], gro_x=190, gro_y=610,
        boxes=[(360, 452, 282, 963, ORANGE), (466, 532, 282, 963, YELLOW)],
        gene_lines=[(973, 470, 825, "#6a6ad0", 1.5, "dot"), (988, 470, 825, "#6a6ad0", 1.5, "dot"), (973, 470, 510, "#4040c0", 3, "solid"), (988, 470, 510, "#4040c0", 3, "solid")],
        gene=("Gfpt1", 327, 970),
        ruler=(355, 605, 126, "1 kb", 340, 622, 143, [("86,992,500|", 352), ("86,993,000|", 480), ("86,993,500|", 605), ("86,994,000|", 733)]))
browser((421.5, 715.3, 916.7, 1216.7), (918, 1558, 110, 1010), (1040, 275, 985, 620, 960, 958),
        [D2_K4ME3, D2_K4ME1, D2_K27AC], [187, 230, 272], [318, 404, 491, 577, 663, 750, 836, 923], D2_UP, D2_DOWN,
        base_segs=[(1048, 1558)], row_segs={0: [(1048, 1135), (1168, 1225), (1240, 1558)], 5: [(1048, 1080), (1090, 1135), (1145, 1440), (1460, 1558)]},
        numbers=[316, 402, 488, 574, 660, 746, 832, 918], chip_label_x=980, chip_label_y=[172, 212, 254], gro_x=955, gro_y=600,
        boxes=[(1097, 1137, 278, 965, ORANGE), (1140, 1160, 280, 965, YELLOW)],
        gene_lines=[(973, 1140, 1556, "#6a6ad0", 1.5, "dot"), (988, 1140, 1556, "#6a6ad0", 1.5, "dot"), (1000, 1100, 1556, "#6a6ad0", 1.5, "dot")],
        exons=[(1346, 968, 1006), (1536, 968, 1006)], gene=("Sec23b", 1040, 985),
        ruler=(1250, 1410, 120, "2 kb", 1237, 1425, 137, [("144,302,000|", 1115), ("144,303,000|", 1185), ("144,304,000|", 1257), ("144,305,000|", 1327), ("144,306,000|", 1400), ("144,307,000|", 1470), ("144,308,", 1535)]))
browser((758.3, 1124.3, 916.7, 1210.7), (115, 1213, 110, 992), (295, 275, 217, 620, 962, 960),
        [D3_K4ME3, D3_K4ME1, D3_K27AC], [187, 231, 273], [318, 404, 490, 577, 663, 749, 836, 923], D3_UP, D3_DOWN,
        base_segs=[(520, 1210)], row_segs={0: [(522, 670), (697, 735), (757, 905), (918, 1015), (1027, 1105), (1120, 1205)], 1: [(517, 695), (740, 897), (922, 1000), (1022, 1130), (1143, 1205)],
                                            2: [(303, 313), (382, 393), (505, 1210)], 3: [(322, 332), (385, 395), (520, 1210)], 4: [(318, 328), (380, 392), (505, 1210)], 6: [(322, 333), (505, 735), (748, 970), (988, 1205)], 7: [(347, 358), (382, 393), (515, 1210)]},
        numbers=[317, 403, 489, 575, 661, 747, 833, 919], chip_label_x=208, chip_label_y=[171, 212, 253], gro_x=170, gro_y=592,
        boxes=[(577, 612, 281, 963, ORANGE), (622, 657, 281, 963, YELLOW)],
        gene_lines=[(973, 567, 1213, "#6a6ad0", 1.5, "dot"), (973, 630, 665, "#2020a0", 3, "solid"), (985, 567, 665, "#3030c0", 2.5, "solid")],
        ruler=(600, 958, 122, "5 kb", 572, 980, 139, [("70,795,000|", 620), ("70,800,000|", 978)]))

RE_YT = [0, .5, 1, 1.5, 2]
D_CHARTS = [
 ("Gfpt1", D_GFPT1_AS, D_GFPT1_PRE, (111.6, 317.7, 1238.3, 1372.7), 215, 64.3, 201, (1345.7, 1361), 212.6, 210),
 ("Sec23b", D_SEC23B_AS, D_SEC23B_PRE, (471, 675.8, 1237.7, 1372), 574, 434.8, 545, (1343, 1359), 556.5, 571),
 ("Eif2ak3", D_EIF_AS, D_EIF_PRE, (798, 1003, 1237.3, 1371.7), 901, 760.7, 970.7, (1336.7, 1354), 983, 904)]
for name, asr, pre, box, tx, rx, mx, mys, lx, zx in D_CHARTS:
    chart(box, [0, 24], ZT_TICKS, [0, 2], RE_YT, f1, [(ZT, asr, ORANGE, None), (ZT, pre, YELLOW, None)],
          tick=14.8, axw=1.8, lw=3.6, ms=11, ticklen=3)
    text(tx, box[2] + 3, f"<i>{name}</i>", 19)
    text(rx, 1300.5, "R.E.", 14.6, angle=-90)
    text(zx, 1405, "ZT (h)", 12.5)
    for my, color, lab in zip(mys, (ORANGE, YELLOW), ("anti-sense RNA (12h)", "pre-mRNA (12h)")):
        dot(mx, my, 12, color)
        text(lx, my, lab, 15.5, anchor="left")

# ===== Panel F
text(24, 1447, "F", 46)
for x, y, label, color, size in (
    (120.5, 1446, "eRNA-1", "#ff0000", 19), (202, 1446, "eRNA-2", "#2a10f0", 19), (305, 1446, "pre-mRNA", "#c4c400", 19.5),
    (395, 1446, "eRNA-3", "#10ffff", 19), (472, 1445, "eRNA-4", "#30f000", 19),
    (684, 1448, "pre-mRNA", "#c4c400", 17), (762, 1448, "eRNA-1", "#ff0000", 17), (921, 1448, "eRNA-2", "#2a10f0", 17),
    (1130, 1445, "eRNA-1", "#ff0000", 19), (1218, 1445, "pre-mRNA", "#c4c400", 19.5), (1308, 1445, "eRNA-2", "#2a10f0", 19), (1386, 1445, "eRNA-3", "#10ffff", 19)):
    text(x, y, label, size, color)

browser((93.7, 473, 1466.7, 1764.5), (204, 1030, 135, 995), (328, 293, 268, 632, 965, 963),
        [F1_K4ME3, F1_K4ME1, F1_K27AC], [208, 248, 290], [333, 418, 502, 586, 670, 755, 839, 923], F1_UP, F1_DOWN, flat=F1_FLAT,
        base_segs=[(333, 940), (970, 980), (1000, 1020)],
        numbers=[337, 421, 503, 588, 671, 755, 839, 923], chip_label_x=265, chip_label_y=[190, 232, 272], gro_x=232, gro_y=622,
        boxes=[(351, 399, 295, 957, "#ff3030"), (477, 524, 295, 957, "#3020f0"), (852, 869, 298, 963, YELLOW), (872, 924, 295, 967, "#20f0f0"), (992, 1019, 298, 948, "#30f030")],
        gene_lines=[(971, 305, 870, "#3030c0", 1, "dot"), (986, 305, 870, "#3030c0", 1, "dot")],
        exons=[(x, 965, 992) for x in (343, 380, 416, 510, 533, 557, 628, 688, 865)], gene=("Acly", 988, 963),
        tips=[(875, 905, [(1, 45), (2, 45), (3, 45), (5, 42), (6, 43), (7, 43)], 1)],
        ruler=(440, 845, 143, "10 kb", 415, 865, 160, [("100,380,000|", 445), ("100,385,000|", 648), ("100,390,000|", 850), ("100", 1020)]))
browser((581.7, 954, 1466.7, 1765.2), (1267, 2078, 135, 997), (1384, 293, 1325, 632, 965, 963),
        [F2_K4ME3, F2_K4ME1, F2_K27AC], [205, 248, 288], [333, 417, 501, 585, 668, 752, 836, 918], F2_UP, F2_DOWN,
        base_segs=[(1385, 1660), (1670, 1720), (1735, 1880), (1895, 2078)],
        numbers=[335, 419, 503, 587, 671, 755, 839, 923], chip_label_x=1327, chip_label_y=[192, 232, 272], gro_x=1293, gro_y=607, gro_size=14,
        boxes=[(1580, 1610, 293, 960, YELLOW), (1633, 1659, 295, 960, "#ff3030"), (1996, 2016, 297, 970, "#3020f0")],
        gene_lines=[(965, 1385, 1658, "#3030c0", 1, "dot"), (990, 1385, 1658, "#3030c0", 1, "dot"), (965, 1595, 1625, "#101080", 3, "solid"), (990, 1595, 1625, "#101080", 3, "solid")],
        exons=[(x, y - 5, y + 5) for x in (1390, 1408, 1480, 1518) for y in (965, 990)], gene=("Fasn", 1720, 970),
        tips=[(1590, 1600, [(i, a) for i, a in enumerate([40, 42, 40, 38, 40, 38, 38, 40])], -1), (1515, 1522, [(2, 42), (4, 39), (5, 40), (6, 40)], -1)],
        ruler=(1530, 1888, 143, "5 kb", 1515, 1903, 158, [("120,645,000|", 1540), ("120,650,000|", 1846)]))
browser((1059.8, 1377.5, 1464.3, 1763.8), (740, 1432, 128, 993), (865, 287, 798, 628, 963, 960),
        [F3_K4ME3, F3_K4ME1, F3_K27AC], [204, 246, 289], [328, 413, 497, 582, 667, 753, 838, 923], F3_UP, F3_DOWN,
        base_segs=[(880, 1212), (1240, 1428)],
        numbers=[331, 415, 499, 583, 668, 752, 836, 922], chip_label_x=803, chip_label_y=[184, 226, 266], gro_x=772, gro_y=630, gro_size=16.5,
        boxes=[(937, 978, 293, 955, "#ff3030"), (1059, 1086, 293, 960, YELLOW), (1249, 1301, 297, 958, "#3020f0"), (1333, 1365, 297, 960, "#20f0f0")],
        gene_lines=[(972, 1030, 1378, "#6a6ad0", 1.5, "dot"), (972, 1115, 1245, "#7777cc", 4, "solid"), (987, 1065, 1378, "#101010", 2, "solid"), (987, 1115, 1150, "#101010", 4, "solid"), (987, 1200, 1245, "#101010", 4, "solid")],
        gene=("Hspa8", 918, 970),
        ruler=(1015, 1172, 142, "2 kb", 990, 1190, 156, [("40,608,000|", 925), ("40,609,000|", 1005), ("40,610,000|", 1085), ("40,611,000|", 1165), ("40,612,000|", 1245), ("40,613,000|", 1325), ("40,614,000|", 1400)]))

F_CHARTS = [
 ("Acly", (137.7, 345.3, 1787, 1922), [0, 2.5], [0, .5, 1, 1.5, 2, 2.5],
  [(F_ACLY_E1, "#ff0000"), (F_ACLY_E2, "#2a10f0"), (F_ACLY_E4, GREEN), (F_ACLY_PRE, YELLOW), (F_ACLY_E3, TEAL)],
  242, 1790, 99.6, 242, 1955, 367.3, [1813, 1830.3, 1848.3, 1866, 1883.3], 380,
  [("eRNA-1 (12h)", "#ff0000"), ("eRNA-2 (12h)", "#2a10f0"), ("eRNA-3 (24h)", TEAL), ("eRNA-4 (12h)", GREEN), ("pre-mRNA", YELLOW)]),
 ("Fasn", (615, 811.8, 1790.5, 1920.3), [0, 2], RE_YT,
  [(F_FASN_E1, "#ff0000"), (F_FASN_PRE, YELLOW), (F_FASN_E2, "#2a10f0")],
  714, 1793, 570.7, 714, 1955, 843, [1845, 1862.5, 1880], 854.5,
  [("eRNA-1 (24h)", "#ff0000"), ("eRNA-2 (12h)", "#2a10f0"), ("pre-mRNA", YELLOW)]),
 ("Hspa8", (1088.7, 1297.6, 1784.3, 1921.7), [0, 2], RE_YT,
  [(F_HSPA8_E1, "#ff0000"), (F_HSPA8_PRE, YELLOW), (F_HSPA8_E2, "#2a10f0"), (F_HSPA8_E3, TEAL)],
  1194, 1787, 1049, 1194, 1953, 1320.5, [1805.4, 1824.4, 1843, 1862], 1333,
  [("eRNA-1 (24h)", "#ff0000"), ("eRNA-2 (12h)", "#2a10f0"), ("eRNA-3 (12h)", TEAL), ("pre-mRNA", YELLOW)])]
for name, box, yr, yt, ser, tx, ty, rx, zx, zy, mx, mys, lx, leg in F_CHARTS:
    chart(box, [0, 24], ZT_TICKS, yr, yt, f1, [(ZT, ys, c, None) for ys, c in ser], tick=14.8, axw=1.8, lw=3.4, ms=11, ticklen=3)
    text(tx, ty, f"<i>{name}</i>", 20)
    text(rx, 1849, "R.E.", 15.5, angle=-90)
    text(zx, zy, "ZT (h)", 14)
    for my, (lab, color) in zip(mys, leg):
        dot(mx, my, 12, color)
        text(lx, my, lab, 15.5, anchor="left")

fig.update_layout(width=W, height=H, margin=dict(l=0, r=0, t=0, b=0, pad=0), paper_bgcolor="#ffffff", plot_bgcolor="rgba(0,0,0,0)",
                  shapes=shapes, annotations=notes, showlegend=False, font=dict(family=SANS))
fig.write_html("out.html", config={"displayModeBar": False},
               post_script="document.body.style.margin='0';document.body.style.overflow='hidden';")
